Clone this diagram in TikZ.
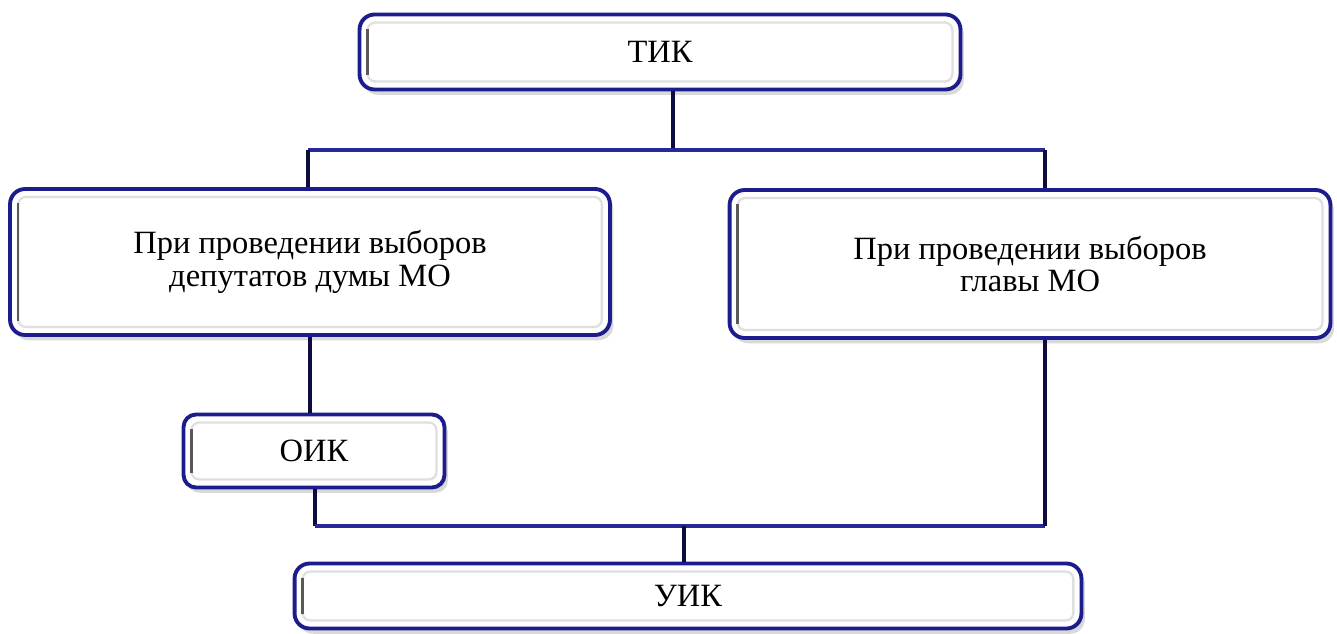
\documentclass[tikz,border=0pt]{standalone}
\usepackage{fontspec}
\setmainfont{LiberationSerif}[Extension=.ttf, UprightFont=*-Regular]
\usetikzlibrary{shadows}

\definecolor{boxblue}{RGB}{28,28,140}
\definecolor{linenavy}{RGB}{12,12,64}
\definecolor{linebus}{RGB}{40,40,155}

\tikzset{
  box/.style={draw=boxblue, line width=2.2pt, fill=white, rounded corners=0.3cm,
    drop shadow={shadow xshift=2pt,shadow yshift=-3pt,opacity=0.3},
    align=center, inner sep=0pt, font=\rmfamily\fontsize{18.5}{18.5}\selectfont},
  innerframe/.style={draw=gray!25, line width=1.3pt, rounded corners=0.15cm},
  innerleft/.style={draw=black!65, line width=1.4pt},
  feed/.style={draw=linenavy, line width=2.2pt},
  bus/.style={draw=linebus, line width=2.6pt}
}

\begin{document}
\begin{tikzpicture}[x=0.02cm,y=-0.02cm]
\useasboundingbox (0,0) rectangle (1337,634);

\node[box, minimum width=12.02cm, minimum height=1.5cm] (tik) at (660,52) {ТИК};
\node[box, minimum width=12cm, minimum height=2.92cm] (dep) at (310,262) {При проведении выборов\\депутатов думы МО};
\node[box, minimum width=12.02cm, minimum height=2.96cm] (head) at (1030,264) {При проведении выборов\\главы МО};
\node[box, minimum width=5.22cm, minimum height=1.46cm, rounded corners=0.25cm] (oik) at (314,451) {ОИК};
\node[box, minimum width=15.74cm, minimum height=1.3cm] (uik) at (688,596) {УИК};

% inner frames
\foreach \n in {tik,dep,head,oik,uik} {
  \draw[innerframe] ([shift={(0.2cm,-0.2cm)}]\n.north west) rectangle ([shift={(-0.2cm,0.2cm)}]\n.south east);
  \draw[innerleft] ([shift={(0.2cm,-0.32cm)}]\n.north west) -- ([shift={(0.2cm,0.32cm)}]\n.south west);
}

\coordinate (top) at (673,150);
\coordinate (topl) at (308,150);
\coordinate (topr) at (1045,150);
\coordinate (low) at (684,526);
\coordinate (lowl) at (315,526);
\coordinate (lowr) at (1045,526);

\draw[feed] (tik.south -| top) -- (top);
\draw[bus] (topl) -- (topr);
\draw[feed] (topl) -- (topl |- dep.north);
\draw[feed] (topr) -- (topr |- head.north);

\draw[feed] (dep.south) -- (dep.south |- oik.north);
\draw[feed] (oik.south -| lowl) -- (lowl);
\draw[bus] (lowl) -- (lowr);
\draw[feed] (head.south -| lowr) -- (lowr);
\draw[feed] (low) -- (low |- uik.north);
\end{tikzpicture}
\end{document}
